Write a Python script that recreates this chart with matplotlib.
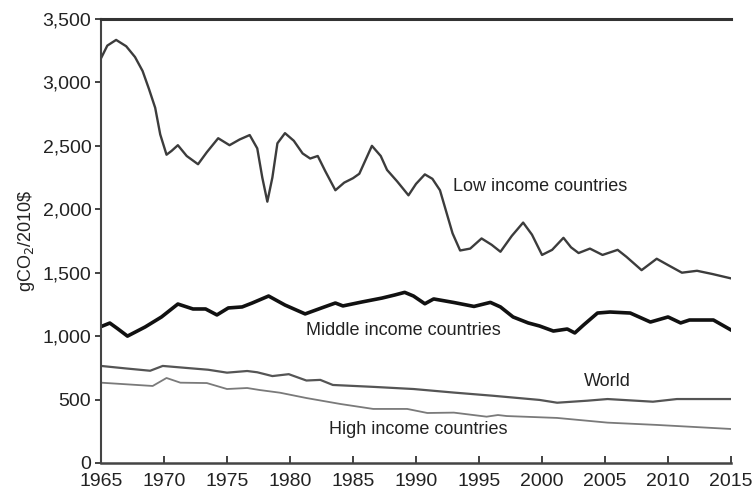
import matplotlib.pyplot as plt

plt.rcParams['font.family'] = ['Liberation Sans', 'DejaVu Sans']

# values (gCO2 per 2010$)
low_years = [1965.0, 1965.5, 1966.2, 1967.0, 1967.7, 1968.3, 1968.8, 1969.3, 1969.7, 1970.2,
             1970.6, 1971.1, 1971.8, 1972.7, 1973.4, 1974.3, 1975.2, 1976.0, 1976.8, 1977.4,
             1977.8, 1978.2, 1978.6, 1979.0, 1979.6, 1980.3, 1981.0, 1981.6, 1982.2, 1982.8,
             1983.6, 1984.3, 1985.0, 1985.5, 1986.5, 1987.2, 1987.7, 1988.5, 1989.4, 1990.0,
             1990.7, 1991.3, 1991.9, 1992.4, 1992.9, 1993.5, 1994.3, 1995.2, 1996.0, 1996.7,
             1997.6, 1998.5, 1999.2, 2000.0, 2000.8, 2001.7, 2002.3, 2002.9, 2003.8, 2004.8,
             2006.0, 2006.7, 2007.9, 2009.1, 2010.0, 2011.1, 2012.3, 2013.5, 2015.0]
low_vals = [3190, 3290, 3335, 3285, 3200, 3090, 2950, 2800, 2590, 2430,
            2460, 2505, 2420, 2355, 2450, 2560, 2505, 2550, 2585, 2480,
            2250, 2060, 2250, 2520, 2600, 2540, 2440, 2400, 2420, 2300,
            2150, 2210, 2245, 2280, 2500, 2420, 2310, 2220, 2110, 2200,
            2275, 2240, 2150, 1980, 1810, 1675, 1690, 1770, 1720, 1665,
            1790, 1895, 1800, 1640, 1680, 1775, 1700, 1655, 1690, 1640,
            1680, 1625, 1520, 1610, 1560, 1500, 1515, 1490, 1455]

mid_years = [1965.0, 1965.7, 1966.3, 1967.1, 1968.5, 1969.8, 1971.1, 1972.3, 1973.3, 1974.2,
             1975.1, 1976.2, 1977.0, 1978.3, 1979.6, 1981.2, 1982.5, 1983.6, 1984.2, 1985.7,
             1987.3, 1988.3, 1989.1, 1989.8, 1990.7, 1991.4, 1993.0, 1994.6, 1995.9, 1996.7,
             1997.7, 1998.9, 1999.8, 2000.9, 2002.0, 2002.6, 2003.3, 2004.4, 2005.4, 2007.0,
             2008.6, 2010.0, 2011.0, 2011.7, 2013.6, 2015.0]
mid_vals = [1075, 1103, 1060, 1000, 1072, 1151, 1253, 1214, 1214, 1167,
            1222, 1230, 1261, 1316, 1245, 1175, 1222, 1261, 1238, 1269,
            1300, 1324, 1345, 1316, 1255, 1293, 1265, 1234, 1266, 1230,
            1151, 1104, 1080, 1040, 1056, 1025, 1088, 1182, 1190, 1182,
            1111, 1151, 1104, 1127, 1127, 1048]

world_years = [1965.0, 1967.0, 1968.9, 1969.9, 1971.8, 1973.5, 1975.0, 1976.6, 1977.4, 1978.6,
               1979.9, 1981.3, 1982.4, 1983.4, 1986.6, 1989.8, 1993.0, 1996.1, 1999.8, 2001.2,
               2003.6, 2005.2, 2008.8, 2010.7, 2015.0]
world_vals = [765, 745, 727, 765, 749, 735, 712, 725, 715, 685,
              700, 650, 655, 615, 600, 583, 555, 530, 497, 475,
              491, 504, 483, 504, 504]

high_years = [1965.0, 1969.1, 1970.2, 1971.3, 1973.4, 1975.0, 1976.6, 1977.6, 1979.2, 1981.3,
              1984.0, 1986.6, 1989.3, 1990.9, 1993.0, 1995.6, 1996.5, 1997.2, 2001.2, 2005.2,
              2009.1, 2015.0]
high_vals = [633, 607, 670, 633, 630, 583, 591, 575, 554, 512,
             465, 426, 426, 394, 397, 365, 378, 370, 355, 318,
             300, 268]

fig = plt.figure(figsize=(7.56, 4.93), dpi=100)
ax = fig.add_axes([0.1336, 0.0609, 0.8334, 0.9006])

ax.plot(low_years, low_vals, color='#3c3c3c', lw=1.7, solid_joinstyle='round')
ax.plot(mid_years, mid_vals, color='#111111', lw=2.6, solid_joinstyle='round')
ax.plot(world_years, world_vals, color='#555555', lw=1.6, solid_joinstyle='round')
ax.plot(high_years, high_vals, color='#7a7a7a', lw=1.3, solid_joinstyle='round')

ax.text(1992.9, 2183, 'Low income countries', fontsize=13, va='center', color='#222222')
ax.text(1981.3, 1048, 'Middle income countries', fontsize=13, va='center', color='#222222')
ax.text(2005.2, 646, 'World', fontsize=13, va='center', ha='center', color='#222222')
ax.text(1983.1, 260, 'High income countries', fontsize=13, va='center', color='#222222')

ax.set_xlim(1965, 2015)
ax.set_ylim(0, 3500)
ax.set_xticks(range(1965, 2016, 5))
ax.set_yticks(range(0, 3501, 500))
ax.set_yticklabels(['{:,}'.format(v) for v in range(0, 3501, 500)])
ax.tick_params(axis='x', direction='in', length=5, width=1.2, labelsize=14, pad=7, colors='#222222')
ax.tick_params(axis='y', direction='out', length=4, width=1.2, labelsize=14, pad=3, colors='#222222')
ax.set_ylabel('gCO$_2$/2010\\$', fontsize=13, color='#222222', labelpad=4)

ax.spines['right'].set_visible(False)
ax.spines['top'].set_linewidth(2.2)
ax.spines['top'].set_color('#333333')
ax.spines['left'].set_linewidth(1.5)
ax.spines['left'].set_color('#444444')
ax.spines['bottom'].set_linewidth(1.8)
ax.spines['bottom'].set_color('#444444')

fig.savefig('out.png', dpi=100)
